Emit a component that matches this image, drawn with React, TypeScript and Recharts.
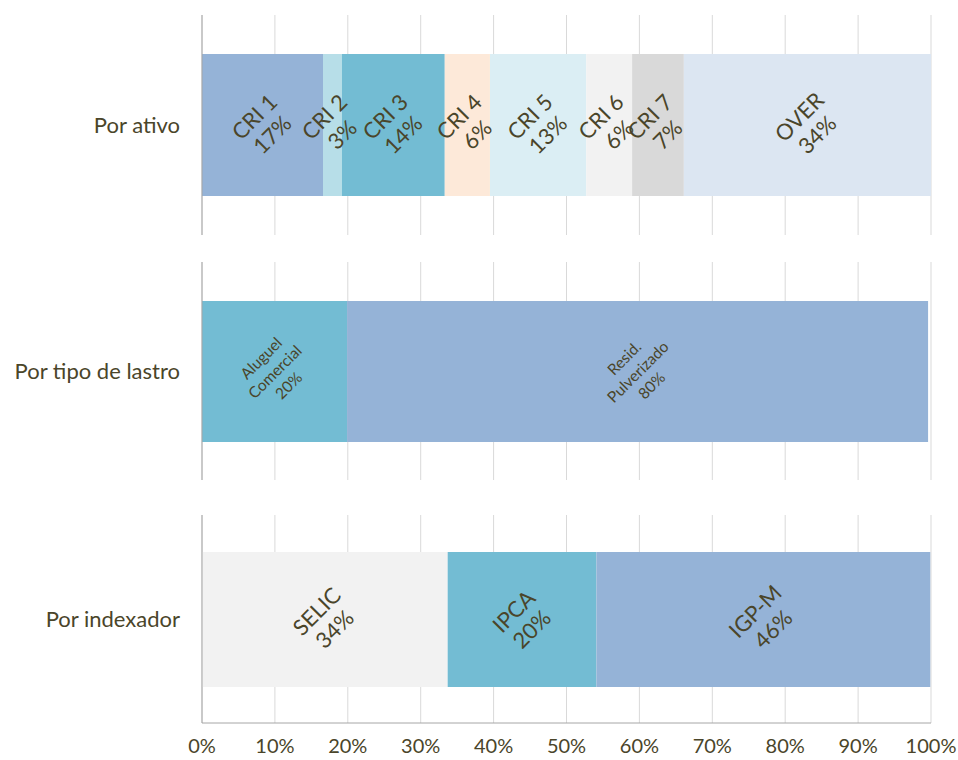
import React from 'react';
import { BarChart, Bar, XAxis, YAxis, CartesianGrid } from 'recharts';

const TEXT = '#4A452A';
const FONT = 'Lato, "Open Sans", sans-serif';

// Por ativo
const ATIVO_NAMES = ['CRI 1', 'CRI 2', 'CRI 3', 'CRI 4', 'CRI 5', 'CRI 6', 'CRI 7', 'OVER'];
const ATIVO_VALUES = [16.6, 2.6, 14.1, 6.2, 13.2, 6.3, 7.1, 33.9];
const ATIVO_COLORS = ['#95B3D7', '#B7DEE8', '#73BCD3', '#FDE9D9', '#DBEEF4', '#F2F2F2', '#D9D9D9', '#DCE6F2'];

// Por tipo de lastro
const LASTRO_NAMES = ['Aluguel\nComercial', 'Resid.\nPulverizado'];
const LASTRO_VALUES = [19.9, 79.7];
const LASTRO_COLORS = ['#73BCD3', '#95B3D7'];

// Por indexador
const INDEX_NAMES = ['SELIC', 'IPCA', 'IGP-M'];
const INDEX_VALUES = [33.7, 20.4, 45.8];
const INDEX_COLORS = ['#F2F2F2', '#73BCD3', '#95B3D7'];

const TICKS = [0, 10, 20, 30, 40, 50, 60, 70, 80, 90, 100];

const SegLabel = (props: any) => {
  const { x, y, width, height, lines, fontSize, lineH } = props;
  const cx = Number(x) + Number(width) / 2;
  const cy = Number(y) + Number(height) / 2;
  const lh = fontSize * lineH;
  const n = lines.length;
  return (
    <text
      transform={`rotate(-45, ${cx}, ${cy})`}
      textAnchor="middle"
      dominantBaseline="central"
      fill={TEXT}
      fontSize={fontSize}
      fontFamily={FONT}
    >
      {lines.map((ln: string, i: number) => (
        <tspan key={i} x={cx} y={cy + (i - (n - 1) / 2) * lh}>
          {ln}
        </tspan>
      ))}
    </text>
  );
};

type PanelProps = {
  category: string;
  names: string[];
  values: number[];
  colors: string[];
  top: number;
  height: number;
  barSize: number;
  fontSize: number;
  lineH: number;
  showAxis?: boolean;
};

const Panel = ({ category, names, values, colors, top, height, barSize, fontSize, lineH, showAxis }: PanelProps) => {
  const row: any = { category };
  values.forEach((v, i) => {
    row[`s${i}`] = v;
  });
  const axisH = showAxis ? 37 : 0;
  return (
    <div style={{ position: 'absolute', left: 0, top }}>
      <BarChart
        width={958}
        height={height + axisH}
        data={[row]}
        layout="vertical"
        margin={{ top: 0, right: 27, left: 0, bottom: 0 }}
        barSize={barSize}
      >
        <CartesianGrid horizontal={false} stroke="#D9D9D9" />
        <XAxis
          type="number"
          domain={[0, 100]}
          ticks={TICKS}
          allowDataOverflow
          height={axisH}
          hide={!showAxis}
          tickFormatter={(v) => `${v}%`}
          tickLine={false}
          tickSize={0}
          tickMargin={16}
          axisLine={{ stroke: '#A6A6A6' }}
          tick={{ fill: TEXT, fontSize: 20, fontFamily: FONT }}
          interval={0}
        />
        <YAxis
          type="category"
          dataKey="category"
          width={202}
          tickLine={false}
          tickSize={0}
          tickMargin={22}
          axisLine={{ stroke: '#A6A6A6' }}
          tick={{ fill: TEXT, fontSize: 22, fontFamily: FONT }}
        />
        {values.map((v, i) => (
          <Bar
            key={i}
            dataKey={`s${i}`}
            stackId="a"
            fill={colors[i]}
            isAnimationActive={false}
            label={(p: any) => (
              <SegLabel
                {...p}
                fontSize={fontSize}
                lineH={lineH}
                lines={[...names[i].split('\n'), `${Math.round(v)}%`]}
              />
            )}
          />
        ))}
      </BarChart>
    </div>
  );
};

export default function App() {
  return (
    <div style={{ position: 'absolute', left: 0, top: 0, width: 958, height: 760, background: '#fff' }}>
      <Panel
        category="Por ativo"
        names={ATIVO_NAMES}
        values={ATIVO_VALUES}
        colors={ATIVO_COLORS}
        top={15}
        height={220}
        barSize={142}
        fontSize={22}
        lineH={1.15}
      />
      <Panel
        category="Por tipo de lastro"
        names={LASTRO_NAMES}
        values={LASTRO_VALUES}
        colors={LASTRO_COLORS}
        top={262}
        height={218}
        barSize={141}
        fontSize={15.5}
        lineH={1.25}
      />
      <Panel
        category="Por indexador"
        names={INDEX_NAMES}
        values={INDEX_VALUES}
        colors={INDEX_COLORS}
        top={515}
        height={208}
        barSize={135}
        fontSize={22}
        lineH={1.15}
        showAxis
      />
    </div>
  );
}
